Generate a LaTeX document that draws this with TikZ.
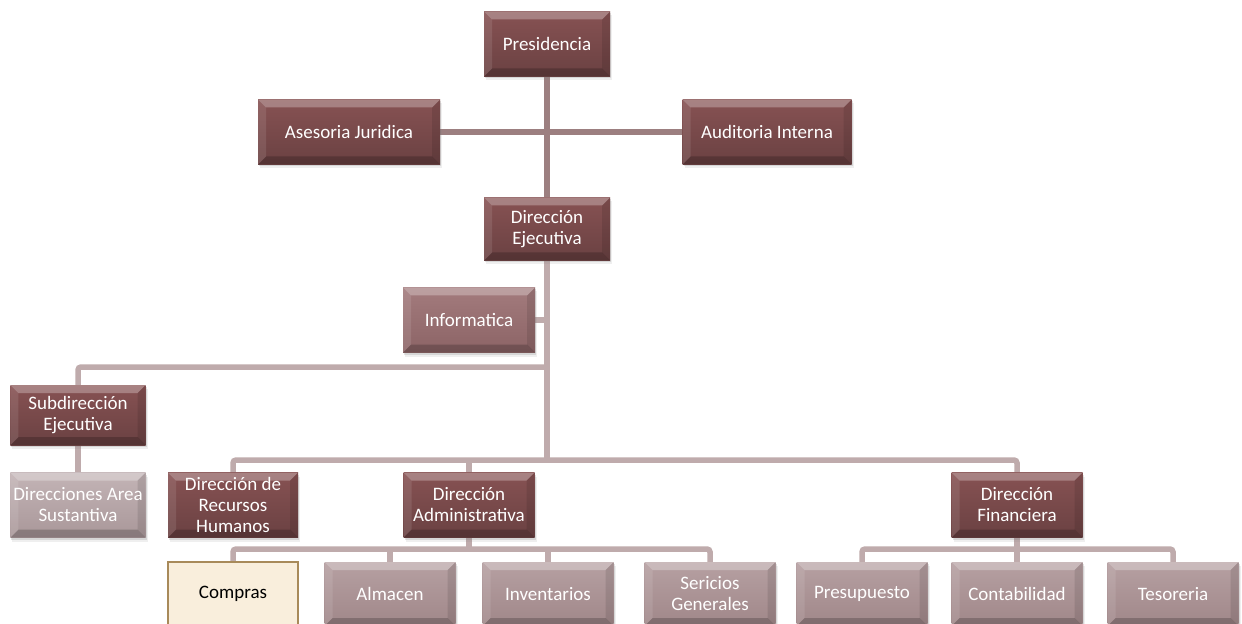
\documentclass[tikz,border=0pt]{standalone}
\usepackage{fontspec}
\setmainfont{Carlito}
\usetikzlibrary{shadows,backgrounds}

\definecolor{darkTop}{HTML}{875253}
\definecolor{darkBot}{HTML}{6A4142}
\definecolor{midTop}{HTML}{A37B7D}
\definecolor{midBot}{HTML}{8C6466}
\definecolor{paleTop}{HTML}{B6A0A2}
\definecolor{paleBot}{HTML}{A08789}
\definecolor{greyTop}{HTML}{C3B4B6}
\definecolor{greyBot}{HTML}{A99799}
\definecolor{beigeFill}{HTML}{F9EEDC}
\definecolor{beigeLine}{HTML}{A88A5A}
\definecolor{linkDark}{HTML}{9C7F80}
\definecolor{linkLight}{HTML}{BFABAC}

\tikzset{
  bevel/.style={path picture={
    \coordinate (q1) at (path picture bounding box.north west);
    \coordinate (q2) at (path picture bounding box.north east);
    \coordinate (q3) at (path picture bounding box.south east);
    \coordinate (q4) at (path picture bounding box.south west);
    \fill[white,opacity=.28] (q1) -- (q2) -- ([shift={(-8bp,-8bp)}]q2) -- ([shift={(8bp,-8bp)}]q1) -- cycle;
    \fill[white,opacity=.10] (q1) -- (q4) -- ([shift={(8bp,8bp)}]q4) -- ([shift={(8bp,-8bp)}]q1) -- cycle;
    \fill[black,opacity=.10] (q2) -- (q3) -- ([shift={(-8bp,8bp)}]q3) -- ([shift={(-8bp,-8bp)}]q2) -- cycle;
    \fill[black,opacity=.20] (q4) -- (q3) -- ([shift={(-8bp,8bp)}]q3) -- ([shift={(8bp,8bp)}]q4) -- cycle;
  }},
  orgbox/.style={rectangle, inner sep=2bp, align=center, text=white,
    font=\fontsize{19bp}{21bp}\selectfont,
    drop shadow={shadow xshift=2bp, shadow yshift=-4bp, opacity=.12},
    drop shadow={shadow xshift=1bp, shadow yshift=-2bp, opacity=.22},
    bevel},
  darkbox/.style={orgbox, top color=darkTop, bottom color=darkBot},
  midbox/.style={orgbox, top color=midTop, bottom color=midBot},
  palebox/.style={orgbox, top color=paleTop, bottom color=paleBot},
  greybox/.style={orgbox, top color=greyTop, bottom color=greyBot},
  beigebox/.style={rectangle, align=center, text=black, fill=beigeFill,
    draw=beigeLine, line width=1.5bp, font=\fontsize{19bp}{21bp}\selectfont},
  linkup/.style={draw=linkDark, line width=5.5bp, rounded corners=3bp},
  linklow/.style={draw=linkLight, line width=5.5bp, rounded corners=3bp},
}

\begin{document}
\begin{tikzpicture}[x=1bp, y=-1bp]
  \useasboundingbox (0,0) rectangle (1242,624);
  \clip (0,0) rectangle (1242,624);
  \begin{pgfonlayer}{background}
    \fill[white] (0,0) rectangle (1242,624);
  \end{pgfonlayer}

  % top management
  \node[darkbox, minimum width=126bp, minimum height=65bp] (pres) at (547,44) {Presidencia};
  \node[darkbox, minimum width=182bp, minimum height=65bp] (ase) at (349,132) {Asesoria Juridica};
  \node[darkbox, minimum width=169bp, minimum height=65bp] (aud) at (767,132) {Auditoria Interna};
  \node[darkbox, minimum width=126bp, minimum height=63bp] (dej) at (547,229) {Dirección\\Ejecutiva};
  \node[midbox, minimum width=132bp, minimum height=65bp] (inf) at (469,320) {Informatica};

  % second level
  \node[darkbox, minimum width=135bp, minimum height=60bp] (sub) at (78,415) {Subdirección\\Ejecutiva};
  \node[greybox, minimum width=135bp, minimum height=65bp] (das) at (78,505) {Direcciones Area\\Sustantiva};
  \node[darkbox, minimum width=130bp, minimum height=65bp] (rh) at (233,505) {Dirección de\\Recursos\\Humanos};
  \node[darkbox, minimum width=131bp, minimum height=65bp] (adm) at (469,505) {Dirección\\Administrativa};
  \node[darkbox, minimum width=131bp, minimum height=65bp] (fin) at (1017,505) {Dirección\\Financiera};

  % departments
  \node[beigebox, minimum width=130bp, minimum height=64bp] (com) at (233,594) {Compras};
  \node[palebox, minimum width=131bp, minimum height=64bp] (alm) at (390,594) {Almacen};
  \node[palebox, minimum width=131bp, minimum height=64bp] (inv) at (548,594) {Inventarios};
  \node[palebox, minimum width=131bp, minimum height=64bp] (ser) at (710,594) {Sericios\\Generales};
  \node[palebox, minimum width=131bp, minimum height=64bp] (pre) at (862,594) {Presupuesto};
  \node[palebox, minimum width=131bp, minimum height=64bp] (con) at (1017,594) {Contabilidad};
  \node[palebox, minimum width=131bp, minimum height=64bp] (tes) at (1173,594) {Tesoreria};

  % junctions of the connector lines
  \coordinate (jsub) at (547,367);
  \coordinate (jmain) at (547,460);
  \coordinate (jadm) at (469,549);
  \coordinate (jfin) at (1017,549);

  \begin{pgfonlayer}{background}
    \path[linkup] (pres.south) -- (dej.north);
    \path[linkup] (ase.east) -- (aud.west);
    \path[linklow] (dej.south) -- (jmain);
    \path[linklow] (inf.east) -- (inf.east -| dej.south);
    \path[linklow] (sub.north) |- (jsub);
    \path[linklow] (sub.south) -- (das.north);
    \path[linklow] (rh.north) |- (jmain) -| (fin.north);
    \path[linklow] (adm.north) -- (adm.north |- jmain);
    \path[linklow] (adm.south) -- (jadm);
    \path[linklow] (com.north) |- (jadm) -| (ser.north);
    \path[linklow] (alm.north) -- (alm.north |- jadm);
    \path[linklow] (inv.north) -- (inv.north |- jadm);
    \path[linklow] (fin.south) -- (jfin);
    \path[linklow] (pre.north) |- (jfin) -| (tes.north);
    \path[linklow] (con.north) -- (con.north |- jfin);
  \end{pgfonlayer}
\end{tikzpicture}
\end{document}
